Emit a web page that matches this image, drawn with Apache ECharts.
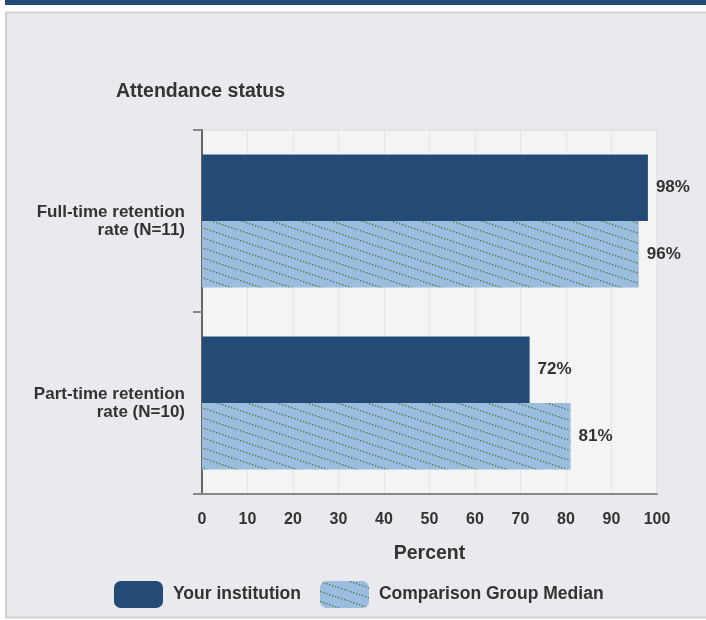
<!DOCTYPE html>
<html>
<head>
<meta charset="utf-8">
<script src="https://cdn.jsdelivr.net/npm/echarts@6/dist/echarts.min.js"></script>
<style>
html,body{margin:0;padding:0;background:#fff;}
#chart{width:706px;height:620px;}
</style>
</head>
<body>
<div id="chart"></div>
<script>
// ---- data ----
const categories = ['Full-time retention\nrate (N=11)', 'Part-time retention\nrate (N=10)'];
const yourInstitution = [98, 72];
const comparisonMedian = [96, 81];
const seriesNames = ['Your institution', 'Comparison Group Median'];
const xTickLabels = ['0','10','20','30','40','50','60','70','80','90','100'];

// ---- hatch pattern ----
function makePattern() {
  const c = document.createElement('canvas');
  c.width = 30; c.height = 10;
  const ctx = c.getContext('2d');
  ctx.fillStyle = '#9dbde0';
  ctx.fillRect(0, 0, 30, 10);
  ctx.fillStyle = '#3f8548';
  for (let i = 0; i < 10; i++) {
    const x = i * 3;
    const y = Math.floor(x / 3);
    ctx.fillRect(x, y, 1.4, 1.4);
  }
  return c;
}
const pattern = { image: makePattern(), repeat: 'repeat' };

const FONT = '"Liberation Sans", Arial, sans-serif';
const chart = echarts.init(document.getElementById('chart'));
chart.setOption({
  backgroundColor: '#ffffff',
  animation: false,
  textStyle: { fontFamily: FONT },
  graphic: [
    { type: 'rect', z: -100, shape: { x: 5, y: 0, width: 701, height: 5 }, style: { fill: '#234b78' } },
    { type: 'rect', z: -100, shape: { x: 6, y: 12.5, width: 710, height: 605 }, style: { fill: '#eaeaee', stroke: '#d2d2d2', lineWidth: 2 } }
  ],
  title: {
    text: 'Attendance status',
    left: 111, top: 77,
    textStyle: { fontFamily: FONT, fontSize: 19.5, fontWeight: 'bold', color: '#333' }
  },
  grid: {
    left: 202, right: 49, top: 130, bottom: 126,
    show: true, backgroundColor: '#f4f4f4', borderColor: '#d8d8d8', borderWidth: 1
  },
  legend: {
    left: 109, top: 576,
    itemWidth: 49, itemHeight: 27, itemGap: 19,
    textStyle: { fontFamily: FONT, fontSize: 17.5, fontWeight: 'bold', color: '#333', padding: [0, 0, 0, 5] },
    data: seriesNames
  },
  xAxis: {
    type: 'value', min: 0, max: 100, interval: 10,
    name: 'Percent', nameLocation: 'middle', nameGap: 50,
    nameTextStyle: { fontFamily: FONT, fontSize: 19.5, fontWeight: 'bold', color: '#333' },
    axisLine: { show: true, lineStyle: { color: '#8a8a8a', width: 2 } },
    axisTick: { show: false },
    axisLabel: {
      margin: 18, fontFamily: FONT, fontSize: 16, fontWeight: 'bold', color: '#333',
      formatter: function (v) { return xTickLabels[Math.round(v / 10)]; }
    },
    splitLine: { show: true, lineStyle: { color: '#dfe5ef', width: 1 } }
  },
  yAxis: {
    type: 'category', inverse: true, data: categories,
    axisLine: { show: true, onZero: false, lineStyle: { color: '#666', width: 2 } },
    axisTick: { show: true, length: 9, lineStyle: { color: '#888', width: 2 } },
    axisLabel: {
      margin: 17, fontFamily: FONT, fontSize: 17, fontWeight: 'bold', color: '#333',
      lineHeight: 18, align: 'right'
    },
    splitLine: { show: false }
  },
  series: [
    {
      name: seriesNames[0], type: 'bar', data: yourInstitution,
      barGap: '0%', barCategoryGap: '27%',
      itemStyle: { color: '#234b76', borderRadius: 0 },
      label: { show: true, position: 'right', distance: 8, formatter: '{c}%',
        fontFamily: FONT, fontSize: 17, fontWeight: 'bold', color: '#333' }
    },
    {
      name: seriesNames[1], type: 'bar', data: comparisonMedian,
      barGap: '0%', barCategoryGap: '27%',
      itemStyle: { color: pattern },
      label: { show: true, position: 'right', distance: 8, formatter: '{c}%',
        fontFamily: FONT, fontSize: 17, fontWeight: 'bold', color: '#333' }
    }
  ]
});
</script>
</body>
</html>
